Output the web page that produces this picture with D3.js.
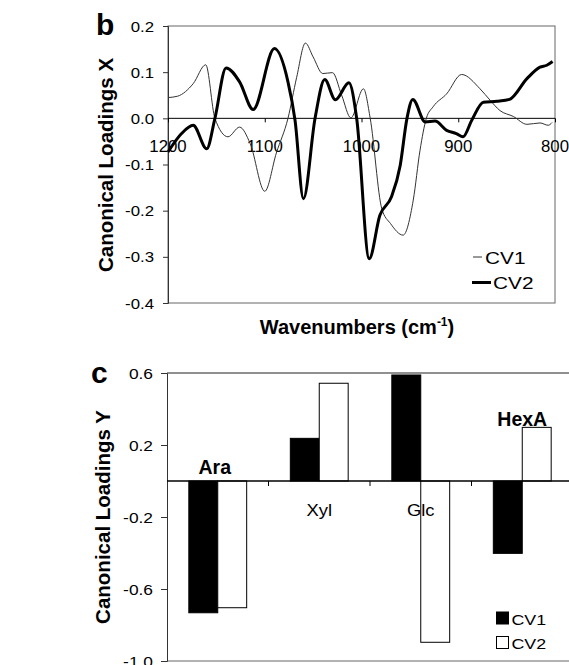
<!DOCTYPE html>
<html><head><meta charset="utf-8">
<script src="https://cdn.jsdelivr.net/npm/d3@7"></script>
<style>html,body{margin:0;padding:0;background:#fff;}svg{display:block;font-family:"Liberation Sans",Arial,sans-serif;}</style>
</head><body><svg id="chart" width="569" height="665"></svg>
<script>
// ---- Panel b data (wavenumber, canonical loading) ----
const cv1Wavenumbers = [1200,1190,1174,1161,1151.5,1138,1126,1115,1100,1088,1076,1067,1058,1050,1040,1030,1020.5,1011,998,991,979,970,957,946.5,939.5,933,926,912,896.5,877.5,867,857,843,829,815.5,807,803];
const cv1Values      = [0.045,0.048,0.075,0.116,0.0,-0.040,-0.019,-0.055,-0.158,-0.075,0.0,0.089,0.163,0.133,0.097,0.099,0.05,0.001,0.064,0.0,-0.196,-0.228,-0.253,-0.177,-0.069,0.0,0.025,0.053,0.095,0.064,0.039,0.017,0.004,-0.013,-0.010,-0.015,-0.009];
const cv2Wavenumbers = [1200,1186,1174,1160,1151.5,1140,1126,1112,1090,1076,1068.7,1060,1048,1038,1027,1013,1005,992,981,969,960,953,947,934,924,912,902,895,886,874,860,847,829,815.5,808.5,802.5];
const cv2Values      = [-0.073,-0.033,-0.015,-0.066,0.0,0.109,0.079,0.019,0.151,0.079,-0.004,-0.174,0.0,0.084,0.040,0.077,0.0,-0.304,-0.21,-0.170,-0.102,0.0,0.041,-0.008,-0.006,-0.026,-0.033,-0.040,-0.004,0.035,0.037,0.041,0.086,0.111,0.115,0.123];
const xTicksB = [1200,1100,1000,900,800];
const yTicksB = [-0.4,-0.3,-0.2,-0.1,0.0,0.1,0.2];

// ---- Panel c data ----
const sugars = ["Ara","Xyl","Glc","HexA"];
const cv1Loadings = [-0.732,0.237,0.589,-0.402];
const cv2Loadings = [-0.704,0.543,-0.896,0.298];
const yTicksC = [-1.0,-0.6,-0.2,0.2,0.6];
const seriesNames = ["CV1","CV2"];

const svg = d3.select("#chart");
svg.append("rect").attr("width",569).attr("height",665).attr("fill","#fff");

function txt(g, x, y, s, o={}) {
  const t = g.append("text")
    .attr("transform", `translate(${x},${y})` + (o.rot?` rotate(${o.rot})`:"") + ` scale(${o.sx||1},1)`)
    .attr("font-size", o.size||15)
    .attr("font-weight", o.weight||"normal")
    .attr("text-anchor", o.anchor||"start")
    .attr("fill","#000");
  t.text(s);
  return t;
}

// ================= Panel b =================
const xB = d3.scaleLinear().domain([1200,800]).range([168,555]);
const yB = d3.scaleLinear().domain([-0.4,0.2]).range([303,26]);
const gB = svg.append("g");

// frame
gB.append("rect").attr("x",xB(1200)).attr("y",yB(0.2)).attr("width",xB(800)-xB(1200)).attr("height",yB(-0.4)-yB(0.2))
  .attr("fill","none").attr("stroke","#666").attr("stroke-width",1);

// y axis
const yAxisB = d3.axisLeft(yB).tickValues(yTicksB).tickSize(5).tickPadding(11).tickFormat(d=>d.toFixed(1));
const ya = gB.append("g").attr("transform",`translate(${xB(1200)},0)`).call(yAxisB);
ya.select(".domain").attr("stroke","#333");
ya.selectAll(".tick line").attr("stroke","#333");
ya.selectAll(".tick text").remove();
yTicksB.forEach(v=>txt(gB, 154, yB(v)+5.5, v.toFixed(1), {size:15, anchor:"end", sx:1.12}));

// zero line + x ticks
gB.append("line").attr("x1",xB(1200)).attr("x2",xB(800)).attr("y1",yB(0)).attr("y2",yB(0)).attr("stroke","#000").attr("stroke-width",1);
const xAxisB = d3.axisBottom(xB).tickValues(xTicksB).tickSize(4).tickFormat("");
const xa = gB.append("g").attr("transform",`translate(0,${yB(0)})`).call(xAxisB);
xa.select(".domain").remove();
xa.selectAll(".tick line").attr("stroke","#000");
xTicksB.forEach(v=>txt(gB, xB(v), 151.5, String(v), {size:16, anchor:"middle", sx:1.05}));

// lines
const lineGen = d3.line().x(d=>xB(d[0])).y(d=>yB(d[1])).curve(d3.curveMonotoneX);
gB.append("path").datum(d3.zip(cv1Wavenumbers,cv1Values)).attr("d",lineGen)
  .attr("fill","none").attr("stroke","#333").attr("stroke-width",1);
gB.append("path").datum(d3.zip(cv2Wavenumbers,cv2Values)).attr("d",lineGen)
  .attr("fill","none").attr("stroke","#000").attr("stroke-width",3).attr("stroke-linejoin","round");

// legend b
gB.append("line").attr("x1",473).attr("x2",482).attr("y1",257).attr("y2",257).attr("stroke","#333").attr("stroke-width",1);
txt(gB, 485, 263.5, seriesNames[0], {size:16, sx:1.3});
gB.append("line").attr("x1",472).attr("x2",491).attr("y1",282.5).attr("y2",282.5).attr("stroke","#000").attr("stroke-width",3);
txt(gB, 493, 288.5, seriesNames[1], {size:16, sx:1.3});

// labels b
txt(gB, 113, 165, "Canonical Loadings X", {size:20.5, weight:"bold", anchor:"middle", rot:-90});
const wl = gB.append("text").attr("transform","translate(357,334)").attr("font-size",20).attr("font-weight","bold").attr("text-anchor","middle");
wl.append("tspan").text("Wavenumbers (cm");
wl.append("tspan").attr("font-size",12).attr("dy",-8).text("-1");
wl.append("tspan").attr("dy",8).text(")");
txt(gB, 96, 35, "b", {size:30, weight:"bold"});

// ================= Panel c =================
const xC = d3.scaleBand().domain(sugars).range([167,573]).paddingInner(0.43).paddingOuter(0.215);
const xSub = d3.scaleBand().domain(seriesNames).range([0,xC.bandwidth()]);
const yC = d3.scaleLinear().domain([-1.0,0.6]).range([661,373]);
const gC = svg.append("g");

// frame lines
gC.append("line").attr("x1",167).attr("x2",569).attr("y1",yC(0.6)).attr("y2",yC(0.6)).attr("stroke","#222").attr("stroke-width",1.2);
gC.append("line").attr("x1",167).attr("x2",569).attr("y1",yC(-1.0)).attr("y2",yC(-1.0)).attr("stroke","#666").attr("stroke-width",1);

// y axis
const yAxisC = d3.axisLeft(yC).tickValues(yTicksC).tickSize(6).tickFormat("");
const yca = gC.append("g").attr("transform","translate(167,0)").call(yAxisC);
yca.select(".domain").attr("stroke","#333");
yca.selectAll(".tick line").attr("stroke","#333");
yTicksC.forEach(v=>txt(gC, 153, yC(v)+5.5, v.toFixed(1), {size:15.5, anchor:"end", sx:1.12}));

// bars
const series = [cv1Loadings, cv2Loadings];
series.forEach((vals,si)=>{
  gC.selectAll(null).data(sugars).enter().append("rect")
    .attr("x",d=>xC(d)+xSub(seriesNames[si]))
    .attr("width",xSub.bandwidth())
    .attr("y",(d,i)=>yC(Math.max(0,vals[i])))
    .attr("height",(d,i)=>Math.abs(yC(vals[i])-yC(0)))
    .attr("fill",si===0?"#000":"#fff")
    .attr("stroke","#000").attr("stroke-width",1);
});

// zero line + category boundary ticks
gC.append("line").attr("x1",167).attr("x2",569).attr("y1",yC(0)).attr("y2",yC(0)).attr("stroke","#000").attr("stroke-width",1.5);
sugars.forEach((s,i)=>{ if(i>0){ const bx = xC(s) - xC.step()*xC.paddingInner()/2;
  gC.append("line").attr("x1",bx).attr("x2",bx).attr("y1",yC(0)).attr("y2",yC(0)+5).attr("stroke","#000"); }});

// category labels
const labelY = {Ara:474, Xyl:516, Glc:516, HexA:426};
const labelBold = {Ara:true, Xyl:false, Glc:false, HexA:true};
sugars.forEach(s=>{
  const cx = xC(s)+xC.bandwidth()/2 + (s==="Ara"?-3:0);
  txt(gC, cx, labelY[s], s, labelBold[s]?{size:19.5, weight:"bold", anchor:"middle"}:{size:16, anchor:"middle", sx:1.15});
});

// legend c
gC.append("rect").attr("x",496).attr("y",611.5).attr("width",13).attr("height",13).attr("fill","#000");
txt(gC, 511.5, 624.5, seriesNames[0], {size:15.5, sx:1.15});
gC.append("rect").attr("x",496.5).attr("y",636.5).attr("width",12).attr("height",12).attr("fill","#fff").attr("stroke","#000").attr("stroke-width",1);
txt(gC, 511.5, 649, seriesNames[1], {size:15.5, sx:1.15});

// labels c
txt(gC, 110, 517, "Canonical Loadings Y", {size:20.5, weight:"bold", anchor:"middle", rot:-90});
txt(gC, 91, 383, "c", {size:30, weight:"bold"});
</script></body></html>
